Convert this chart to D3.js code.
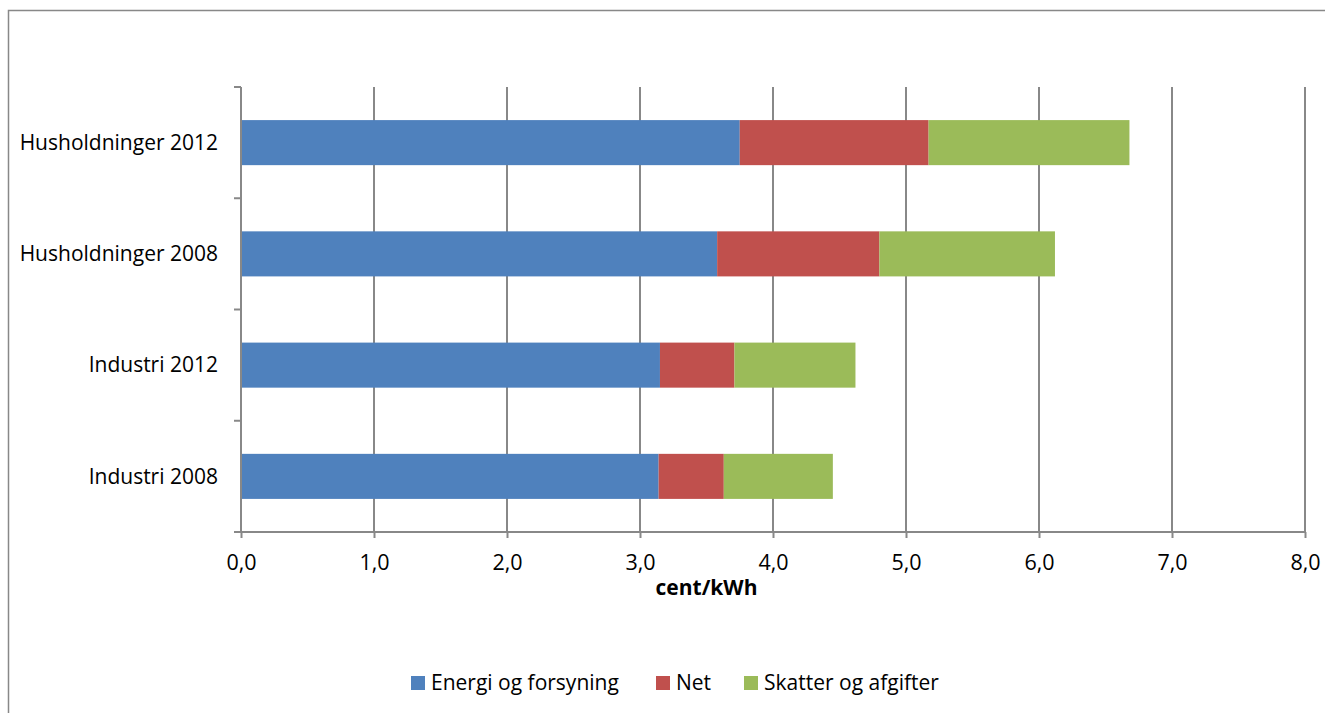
<!DOCTYPE html>
<html>
<head>
<meta charset="utf-8">
<script src="https://cdn.jsdelivr.net/npm/d3@7"></script>
<style>
  html, body { margin: 0; padding: 0; background: #fff; }
  svg { display: block; font-family: "Open Sans", sans-serif; }
</style>
</head>
<body>
<svg id="chart" width="1325" height="713"></svg>
<script>
// Electricity price components, cent/kWh
const categories = ["Husholdninger 2012", "Husholdninger 2008", "Industri 2012", "Industri 2008"];
const seriesNames = ["Energi og forsyning", "Net", "Skatter og afgifter"];
const energi = [3.75, 3.58, 3.15, 3.14];
const net = [1.42, 1.22, 0.56, 0.49];
const skatter = [1.51, 1.32, 0.91, 0.82];
const xTicks = [0, 1, 2, 3, 4, 5, 6, 7, 8];
const colors = ["#4F81BD", "#C0504D", "#9BBB59"];
const axisTitle = "cent/kWh";

const FONT = "'Open Sans', sans-serif";
const FS = 21;

const svg = d3.select("#chart");
const margin = { left: 241, top: 87 };
const plotW = 1305 - margin.left;
const plotH = 532 - margin.top;
const grey = "#888888";

// chart frame
svg.append("rect")
  .attr("x", 8.5).attr("y", 10.5)
  .attr("width", 1340).attr("height", 720)
  .attr("fill", "none").attr("stroke", grey).attr("stroke-width", 1.5);

const g = svg.append("g").attr("transform", `translate(${margin.left},${margin.top})`);

const x = d3.scaleLinear().domain([0, 8]).range([0, plotW]);
const y = d3.scaleBand().domain(categories).range([0, plotH]).paddingInner(0.595).paddingOuter(0.2975);

// vertical gridlines
g.append("g").selectAll("line").data(xTicks.slice(1)).join("line")
  .attr("x1", d => x(d)).attr("x2", d => x(d))
  .attr("y1", 0).attr("y2", plotH)
  .attr("stroke", grey).attr("stroke-width", 2);

// stacked bars
const rows = categories.map((c, i) => ({ cat: c, vals: [energi[i], net[i], skatter[i]] }));
const stack = d3.stack().keys([0, 1, 2]).value((d, k) => d.vals[k]);
const layers = stack(rows);

g.append("g").selectAll("g").data(layers).join("g")
  .attr("fill", (d, i) => colors[i])
  .selectAll("rect").data(d => d).join("rect")
  .attr("x", d => x(d[0]))
  .attr("width", d => x(d[1]) - x(d[0]))
  .attr("y", d => y(d.data.cat))
  .attr("height", y.bandwidth());

// category axis
const yAxisLine = g.append("g");
yAxisLine.append("line")
  .attr("x1", 0).attr("x2", 0).attr("y1", 0).attr("y2", plotH)
  .attr("stroke", grey).attr("stroke-width", 2);
const step = plotH / categories.length;
yAxisLine.selectAll(".ytick").data(d3.range(categories.length + 1)).join("line")
  .attr("x1", -7).attr("x2", 0)
  .attr("y1", d => d * step).attr("y2", d => d * step)
  .attr("stroke", grey).attr("stroke-width", 2);
g.append("g").selectAll("text").data(categories).join("text")
  .attr("x", -23)
  .attr("y", d => y(d) + y.bandwidth() / 2)
  .attr("dy", "0.35em")
  .attr("text-anchor", "end")
  .attr("font-size", FS)
  .attr("fill", "#000")
  .text(d => d);

// value axis
const xAxis = d3.axisBottom(x).tickValues(xTicks)
  .tickFormat(d => d3.format(".1f")(d).replace(".", ","))
  .tickSize(6).tickSizeOuter(0);
const xg = g.append("g").attr("transform", `translate(0,${plotH})`).call(xAxis);
xg.select(".domain").remove();
xg.append("line").attr("x1", -7).attr("x2", plotW).attr("y1", 0).attr("y2", 0)
  .attr("stroke", grey).attr("stroke-width", 2);
xg.selectAll(".tick line").attr("stroke", grey).attr("stroke-width", 2);
xg.selectAll(".tick text")
  .attr("y", 30).attr("dy", "0.35em")
  .attr("font-size", 21.5).attr("fill", "#000")
  .attr("font-family", FONT);

svg.append("text")
  .attr("x", margin.left + x(3.5)).attr("y", 588)
  .attr("dy", "0.35em")
  .attr("text-anchor", "middle")
  .attr("font-size", 21).attr("font-weight", "bold")
  .text(axisTitle);

// legend
const legendItems = [
  { name: seriesNames[0], x: 411 },
  { name: seriesNames[1], x: 656 },
  { name: seriesNames[2], x: 744 }
];
const lg = svg.append("g");
legendItems.forEach((it, i) => {
  lg.append("rect").attr("x", it.x).attr("y", 676)
    .attr("width", 14).attr("height", 14).attr("fill", colors[i]);
  lg.append("text").attr("x", it.x + 20).attr("y", 683)
    .attr("dy", "0.35em").attr("font-size", FS).text(it.name);
});
</script>
</body>
</html>
